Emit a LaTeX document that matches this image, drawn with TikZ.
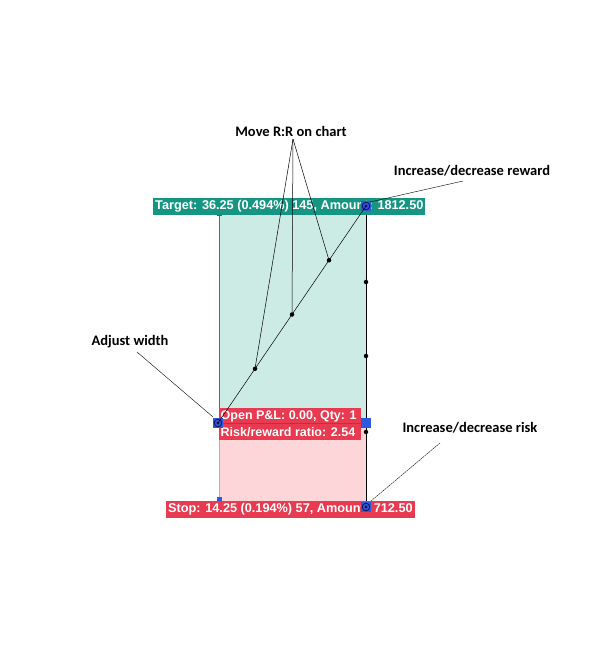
\documentclass[tikz,border=0pt]{standalone}
\usepackage{fontspec}
\setmainfont{Liberation Sans}
\newfontfamily\calloutfont{Carlito}
\usetikzlibrary{calc}
\definecolor{greenfill}{RGB}{204,235,228}
\definecolor{redfill}{RGB}{253,214,218}
\definecolor{tealbox}{RGB}{22,150,130}
\definecolor{redbox}{RGB}{232,58,80}
\definecolor{tealline}{RGB}{20,140,120}
\definecolor{redline}{RGB}{235,150,160}
\definecolor{handleblue}{RGB}{45,90,225}
\definecolor{handlering}{RGB}{20,20,90}
\begin{document}
\begin{tikzpicture}[x=1pt,y=-1pt,
  pricebox/.style={inner xsep=2pt,inner ysep=0pt,minimum height=17pt,text=white,font=\fontsize{12.7}{13}\selectfont\bfseries,anchor=west},
  infobg/.style={fill=redbox,minimum width=142pt,minimum height=16pt,inner sep=0pt,anchor=west},
  infotext/.style={inner xsep=1.5pt,inner ysep=0pt,text=white,font=\fontsize{12.5}{13}\selectfont\bfseries,anchor=west},
  callout/.style={font=\calloutfont\fontsize{14.5}{15}\selectfont\bfseries,inner sep=1pt},
  leader/.style={black,line width=0.5pt},
  dotmark/.style={circle,fill=black,inner sep=0pt,minimum size=4.5pt},
  handlesq/.style={fill=handleblue,draw=none,minimum size=10.5pt,inner sep=0pt},
]
\useasboundingbox[fill=white] (0,0) rectangle (605,661);
% zones
\fill[greenfill] (219,207) rectangle (366,423);
\fill[redfill] (219,423) rectangle (366,505);
\draw[tealline,line width=0.7pt] (219,210) -- (219,423);
\draw[redline,line width=0.7pt] (219,423) -- (219,502);
\draw[black,line width=0.8pt] (366,207) -- (366,505);
\fill[handleblue] (216.5,211) rectangle (221.5,216);
\fill[handleblue] (216.5,497) rectangle (221.5,501);
% price boxes
\node[pricebox,fill=tealbox] (target) at (153,206) {Target: 36.25 (0.494\%) 145, Amount: 1812.50};
\node[pricebox,fill=redbox] (stop) at (166,509) {Stop: 14.25 (0.194\%) 57, Amount: 712.50};
\node[infobg] (pnlbg) at (219,416) {};
\node[infobg] (rrbg) at (219,432) {};
\node[infotext] (pnl) at (pnlbg.west) {Open P\&L: 0.00, Qty: 1};
\node[infotext] (rr) at (rrbg.west) {Risk/reward ratio: 2.54};
\draw[handleblue,line width=0.6pt] (219,423) -- (366,423);
% handles
\coordinate (tgtH) at (366,206);
\coordinate (entryL) at (218,423);
\coordinate (entryR) at (366,423);
\coordinate (stopH) at (366,507);
\node[handlesq] (hT) at (tgtH) {};
\node[handlesq] (hL) at (entryL) {};
\node[handlesq] (hR) at (entryR) {};
\node[handlesq] (hS) at (stopH) {};
\foreach \h in {tgtH,entryL,stopH}{
  \draw[handlering,line width=0.9pt] (\h) circle (3.8pt);
  \fill[handlering] (\h) circle (1.6pt);
}
% diagonal and dots
\draw[leader] (entryL) -- (tgtH);
\node[dotmark] (d1) at ($(entryL)!0.25!(tgtH)$) {};
\node[dotmark] (d2) at ($(entryL)!0.5!(tgtH)$) {};
\node[dotmark] (d3) at ($(entryL)!0.75!(tgtH)$) {};
\node[dotmark] (r1) at (366,282) {};
\node[dotmark] (r2) at (366,356) {};
\node[dotmark] (r3) at (366,432) {};
% callouts
\node[callout] (move) at (291,131) {Move R:R on chart};
\coordinate (moveroot) at (293,139);
\draw[leader] (moveroot) -- (d1.center);
\draw[leader] (moveroot) -- (d2.center);
\draw[leader] (moveroot) -- (d3.center);
\node[callout] (reward) at (472,171) {Increase/decrease reward};
\coordinate (rewardroot) at (463,181);
\draw[leader,line width=0.4pt] (rewardroot) -- (370,202);
\node[callout] (adjust) at (130,342) {Adjust width};
\coordinate (adjustroot) at (137,352);
\draw[leader,line width=0.4pt] (adjustroot) -- (213,417);
\node[callout] (risk) at (470,428) {Increase/decrease risk};
\coordinate (riskroot) at (440,443);
\draw[leader,line width=0.4pt,dash pattern=on 2pt off 0.6pt] (riskroot) -- (371,501);
\end{tikzpicture}
\end{document}
